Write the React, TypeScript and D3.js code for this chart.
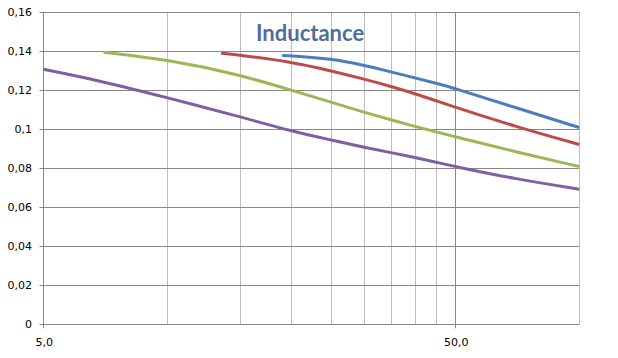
import React from "react";
import * as d3 from "d3";

const W = 618;
const H = 358;

const yTicks = [0, 0.02, 0.04, 0.06, 0.08, 0.1, 0.12, 0.14, 0.16];
const yTickLabels = ["0", "0,02", "0,04", "0,06", "0,08", "0,1", "0,12", "0,14", "0,16"];
const xMajorTicks = [5, 50];
const xMajorLabels = ["5,0", "50,0"];
const xMinorTicks = [10, 15, 20, 25, 30, 35, 40, 45, 100];

const blueX = [19, 20, 25, 30, 35, 40, 45, 50, 70, 100];
const blueY = [0.1378, 0.1377, 0.1362, 0.1329, 0.1294, 0.1263, 0.1236, 0.1209, 0.1111, 0.1009];
const redX = [13.5, 15, 20, 25, 30, 35, 40, 45, 50, 70, 100];
const redY = [0.139, 0.138, 0.1346, 0.13, 0.1258, 0.1219, 0.1182, 0.1146, 0.1113, 0.1014, 0.0922];
const greenX = [7, 10, 15, 20, 25, 30, 35, 40, 45, 50, 70, 100];
const greenY = [0.1395, 0.1358, 0.128, 0.12, 0.1139, 0.1087, 0.1048, 0.1014, 0.0986, 0.0962, 0.0884, 0.0809];
const purpleX = [5, 7, 10, 15, 20, 25, 30, 35, 40, 45, 50, 70, 100];
const purpleY = [0.1308, 0.1245, 0.1162, 0.1065, 0.099, 0.0945, 0.0908, 0.088, 0.0855, 0.0831, 0.0809, 0.0745, 0.0693];

const seriesList = [
  { xs: purpleX, ys: purpleY, color: "#7D60A0" },
  { xs: greenX, ys: greenY, color: "#98B954" },
  { xs: redX, ys: redY, color: "#BE4B48" },
  { xs: blueX, ys: blueY, color: "#4A7EBB" },
];

export default function App() {
  const left = 43.3;
  const right = 579.3;
  const top = 12.3;
  const bottom = 324.3;
  const x = d3.scaleLog().domain([5, 100]).range([left, right]);
  const y = d3.scaleLinear().domain([0, 0.16]).range([bottom, top]);
  const line = d3
    .line<[number, number]>()
    .x((d) => x(d[0]))
    .y((d) => y(d[1]))
    .curve(d3.curveBasis);

  const r = (v: number) => Math.round(v) + 0.5;

  return (
    <svg width={W} height={H} style={{ position: "absolute", left: 0, top: 0, background: "#fff" }}>
      {xMinorTicks.map((t) => (
        <line key={"mx" + t} x1={r(x(t))} x2={r(x(t))} y1={top} y2={bottom} stroke="#BDBDBD" strokeWidth={1} />
      ))}
      {yTicks.map((t) => (
        <line key={"gy" + t} x1={left} x2={right} y1={r(y(t))} y2={r(y(t))} stroke="#878787" strokeWidth={1} />
      ))}
      <line x1={r(x(50))} x2={r(x(50))} y1={top} y2={bottom + 4} stroke="#878787" strokeWidth={1} />
      <line x1={r(x(5))} x2={r(x(5))} y1={top} y2={bottom + 4} stroke="#878787" strokeWidth={1} />
      {yTicks.map((t) => (
        <line key={"ty" + t} x1={r(x(5)) - 4} x2={r(x(5))} y1={r(y(t))} y2={r(y(t))} stroke="#878787" strokeWidth={1} />
      ))}
      {yTicks.map((t, i) => (
        <text
          key={"ly" + t}
          x={32}
          y={y(t)}
          dy="0.35em"
          textAnchor="end"
          fontFamily="DejaVu Sans"
          fontSize={11}
          fill="#000"
        >
          {yTickLabels[i]}
        </text>
      ))}
      {xMajorTicks.map((t, i) => (
        <text
          key={"lx" + t}
          x={x(t) + 1}
          y={346}
          textAnchor="middle"
          fontFamily="DejaVu Sans"
          fontSize={11}
          fill="#000"
        >
          {xMajorLabels[i]}
        </text>
      ))}
      {seriesList.map((s, i) => (
        <path
          key={"s" + i}
          d={line(s.xs.map((v, j) => [v, s.ys[j]] as [number, number])) || ""}
          fill="none"
          stroke={s.color}
          strokeWidth={3}
          strokeLinecap="butt"
        />
      ))}
      <text x={256} y={41} fontFamily="Lato" fontWeight="bold" fontSize={22} fill="#4F6D9A">
        Inductance
      </text>
    </svg>
  );
}
